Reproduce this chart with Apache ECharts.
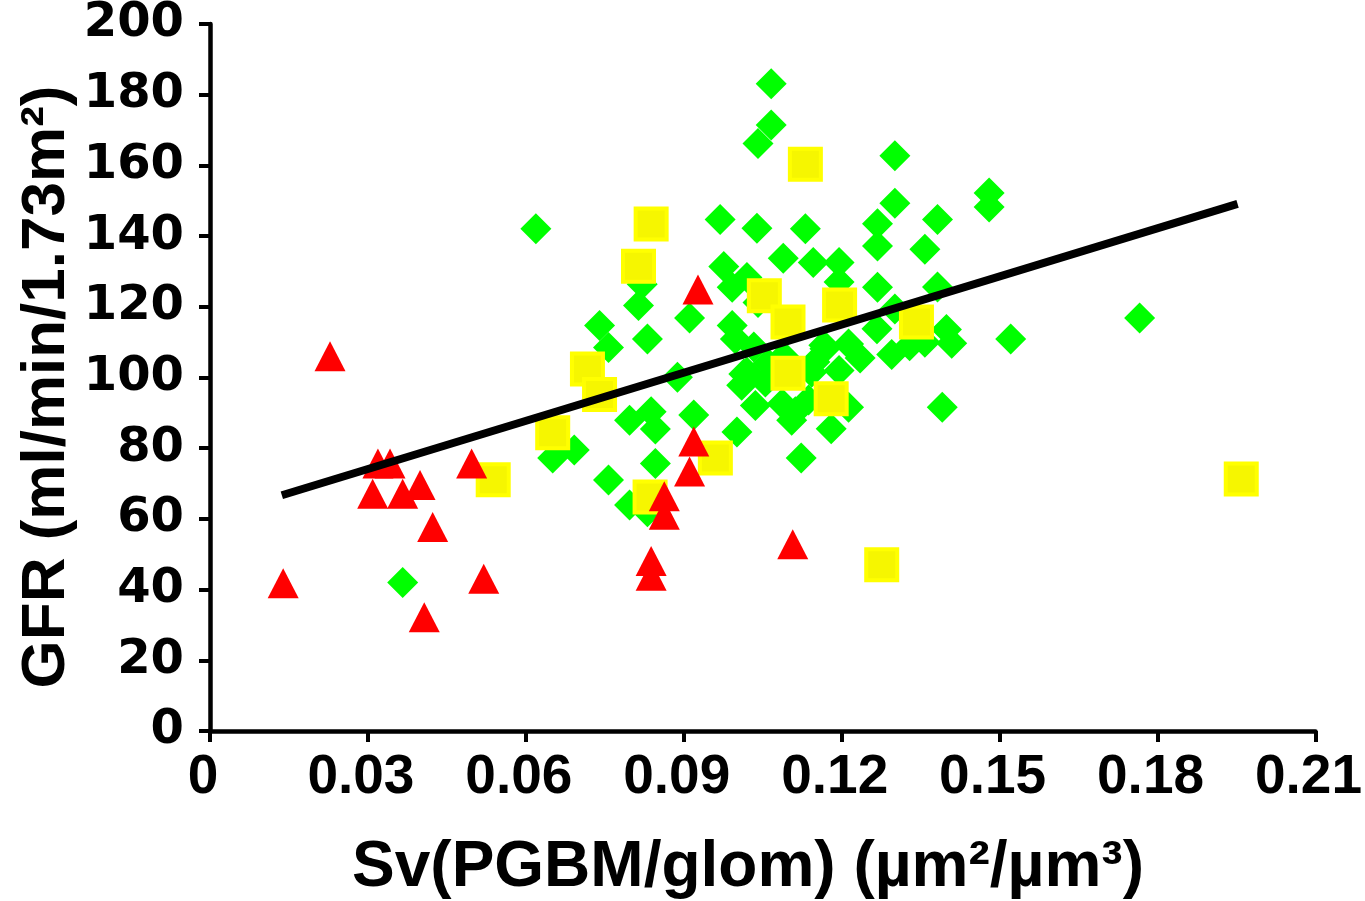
<!DOCTYPE html>
<html>
<head>
<meta charset="utf-8">
<script src="https://cdn.jsdelivr.net/npm/echarts@6/dist/echarts.min.js"></script>
<style>
html,body{margin:0;padding:0;background:#fff;}
#chart{width:1365px;height:901px;}
</style>
</head>
<body>
<div id="chart"></div>
<script>
// ---- data ----
const greenPts = [
  [0.0366,42.0],[0.0619,142.1],[0.0651,77.2],[0.0692,79.5],[0.0740,114.7],[0.0757,108.5],
  [0.0757,71.0],[0.0797,87.9],[0.0797,63.9],[0.0814,120.4],[0.0821,126.4],[0.0831,110.9],
  [0.0831,62.0],[0.0838,90.3],[0.0846,85.4],[0.0846,75.7],[0.0888,100.1],[0.0911,116.8],
  [0.0919,89.4],[0.0969,144.7],[0.0976,131.4],[0.0992,125.5],[0.1020,128.3],[0.0992,114.7],
  [0.0998,110.9],[0.1001,84.6],[0.1033,108.6],[0.1020,101.5],[0.1010,97.8],[0.1036,92.1],
  [0.1055,98.7],[0.1087,92.6],[0.1112,90.3],[0.1137,93.6],[0.1143,101.5],[0.1168,108.1],
  [0.1041,121.2],[0.1039,142.2],[0.1041,166.2],[0.1066,171.4],[0.1066,183.1],[0.1131,142.1],
  [0.1089,133.7],[0.1146,132.5],[0.1195,132.5],[0.1195,127.0],[0.1268,125.5],[0.1268,137.2],
  [0.1268,143.5],[0.1301,149.3],[0.1301,162.7],[0.1382,144.7],[0.1358,136.3],[0.1382,125.6],
  [0.1480,152.2],[0.1480,148.2],[0.1301,119.4],[0.1267,113.8],[0.1399,113.6],[0.1409,109.7],
  [0.1358,110.0],[0.1295,106.5],[0.1235,105.5],[0.1213,109.5],[0.1166,109.1],[0.1195,102.0],
  [0.1213,91.6],[0.1180,85.5],[0.1391,91.6],[0.1123,77.2],[0.1105,87.9],[0.1521,110.9],
  [0.1766,116.8],[0.1149,104.4],[0.1014,101.0],[0.1090,106.0],[0.1060,104.0],[0.1329,109.0]
];
const yellowPts = [
  [0.0538,71.1],[0.0651,84.4],[0.0717,102.4],[0.0740,95.2],[0.0814,131.5],[0.0838,143.4],
  [0.0836,66.2],[0.0960,77.2],[0.1053,123.1],[0.1098,115.7],[0.1098,101.2],[0.1131,160.3],
  [0.1196,120.5],[0.1180,94.0],[0.1342,115.7],[0.1276,47.0],[0.1959,71.3]
];
const redPts = [
  [0.0139,41.8],[0.0228,106.0],[0.0319,75.7],[0.0342,75.7],[0.0309,67.1],[0.0366,67.1],
  [0.0399,69.6],[0.0423,57.7],[0.0407,32.2],[0.0497,75.7],[0.0520,43.1],[0.0838,48.1],
  [0.0838,43.9],[0.0863,66.4],[0.0863,61.2],[0.0911,73.4],[0.0919,81.9],[0.0927,124.9],
  [0.1107,52.8]
];
const fitLine = [[0.01365,66.7],[0.1952,149.1]];
const xTickLabels = ['0','0.03','0.06','0.09','0.12','0.15','0.18','0.21'];
const yTickLabels = ['0','20','40','60','80','100','120','140','160','180','200'];
const xTitle = 'Sv(PGBM/glom) (µm²/µm³)';
const yTitle = 'GFR (ml/min/1.73m²)';

const chart = echarts.init(document.getElementById('chart'), null, {renderer:'canvas'});
const axisLine = {show:true, onZero:false, lineStyle:{color:'#000', width:4.5}};
const axisTick = {show:true, inside:false, length:11, lineStyle:{color:'#000', width:4}};

chart.setOption({
  animation:false,
  backgroundColor:'#fff',
  grid:{left:210, right:47, top:20, bottom:170, containLabel:false},
  xAxis:{
    type:'value', min:0, max:0.21, interval:0.03,
    axisLine:axisLine, axisTick:axisTick, splitLine:{show:false},
    axisLabel:{
      margin:19, color:'#000', fontFamily:'Liberation Sans', fontWeight:'bold', fontSize:55,
      padding:[0,14,0,0],
      formatter:(v)=>xTickLabels[Math.round(v/0.03)]
    }
  },
  yAxis:{
    type:'value', min:0, max:200, interval:20,
    axisLine:axisLine, axisTick:axisTick, splitLine:{show:false},
    axisLabel:{
      margin:26, color:'#000', fontFamily:'DejaVu Sans', fontWeight:'bold', fontSize:48,
      padding:[8,0,0,0],
      formatter:(v)=>yTickLabels[Math.round(v/20)]
    }
  },
  graphic:[
    {type:'text', x:748, y:868, z:100,
     style:{text:xTitle, font:'bold 64px "Liberation Sans"', fill:'#000', textAlign:'center', textVerticalAlign:'middle'}},
    {type:'text', x:47, y:387, rotation:Math.PI/2, z:100,
     style:{text:yTitle, font:'bold 62px "Liberation Sans"', fill:'#000', textAlign:'center', textVerticalAlign:'middle'}}
  ],
  series:[
    {type:'scatter', data:greenPts, symbol:'diamond', symbolSize:31, z:2,
     itemStyle:{color:'#00ff00', opacity:1}},
    {type:'scatter', data:yellowPts, symbol:'rect', symbolSize:31, z:3,
     itemStyle:{color:'#f6f600', borderColor:'#ffff00', borderWidth:4, opacity:1}},
    {type:'scatter', data:redPts, symbol:'triangle', symbolSize:[31,30], z:4,
     itemStyle:{color:'#ff0000', opacity:1}},
    {type:'line', data:fitLine, showSymbol:false, symbol:'none', z:5,
     lineStyle:{color:'#000', width:8, cap:'butt'}}
  ]
});
</script>
</body>
</html>
